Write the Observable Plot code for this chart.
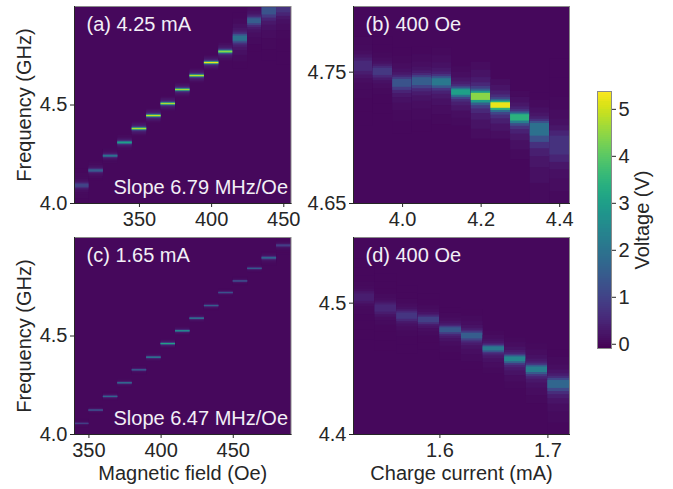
<!DOCTYPE html>
<html>
<head>
<meta charset="utf-8">
<script src="https://cdn.jsdelivr.net/npm/d3@7"></script>
<script src="https://cdn.jsdelivr.net/npm/@observablehq/plot@0.6"></script>
<style>
html,body{margin:0;padding:0;background:#fff}
#fig{position:relative;width:673px;height:489px;overflow:hidden}
#fig svg{position:absolute;overflow:visible;background:none}
</style>
</head>
<body>
<div id="fig"></div>
<script>
// Panel (a) 4.25 mA: column centres (Oe), peak frequency (GHz), peak voltage (V), line half-widths above and below the peak (GHz)
const fieldA = [310,320,330,340,350,360,370,380,390,400,410,420,430,440,450];
const freqA  = [4.0895,4.1655,4.24,4.3074,4.378,4.444,4.505,4.576,4.647,4.713,4.769,4.838,4.927,4.981,4.995];
const voltA  = [1.0,1.5,2.0,3.0,4.7,4.9,4.7,4.6,4.8,5.2,4.4,1.9,1.5,1.3,0.7];
const upperA = [.013,.008,.006,.006,.0055,.0055,.0055,.0055,.0055,.0055,.007,.02,.018,.02,.03];
const lowerA = [.013,.008,.006,.006,.0055,.0055,.0055,.0055,.0055,.0055,.007,.024,.024,.04,.045];
// Panel (b) 400 Oe
const currentB = [3.9,3.95,4.0,4.05,4.1,4.15,4.2,4.25,4.3,4.35,4.4];
const freqB  = [4.7548,4.7505,4.7421,4.7434,4.7426,4.7348,4.7315,4.7249,4.7158,4.7085,4.6953];
const voltB  = [0.55,0.8,1.3,1.5,2.1,3.0,4.4,5.2,3.4,1.9,0.7];
const upperB = [.006,.004,.004,.004,.004,.003,.004,.003,.003,.004,.010];
const lowerB = [.007,.005,.006,.006,.005,.004,.005,.004,.005,.012,.014];
// Panel (c) 1.65 mA
const fieldC = [345,355,365,375,385,395,405,415,425,435,445,455,465,475,485];
const freqC  = [4.054,4.1216,4.191,4.26,4.326,4.39,4.459,4.524,4.588,4.652,4.718,4.777,4.841,4.895,4.958];
const voltC  = [1.0,1.4,1.8,2.0,1.6,2.3,3.2,2.8,2.2,1.6,1.4,1.4,1.6,1.7,0.9];
const upperC = [.0035,.0035,.0035,.0035,.0035,.0035,.0035,.0035,.0035,.0035,.0035,.0035,.0035,.005,.006];
const lowerC = [.0035,.0035,.0035,.0035,.0035,.0035,.0035,.0035,.0035,.0035,.0035,.0035,.0035,.006,.007];
// Panel (d) 400 Oe
const currentD = [1.53,1.55,1.57,1.59,1.61,1.63,1.65,1.67,1.69,1.71];
const freqD  = [4.5043,4.4962,4.4904,4.4873,4.4797,4.4752,4.4655,4.4575,4.4496,4.4387];
const voltD  = [0.35,0.5,0.75,0.95,1.4,1.5,2.1,2.4,2.2,1.7];
const upperD = [.0045,.004,.0035,.003,.0025,.003,.002,.0025,.003,.004];
const lowerD = [.005,.005,.0045,.0035,.0035,.004,.003,.0035,.004,.006];
// Line shape: outer edge of each band in half-widths, and its share of the peak voltage (outermost first)
const shapeEdges  = [6.5,5,3.6,2.6,1.9,1.4,1,.6];
const shapeLevels = [.02,.04,.07,.12,.2,.35,.65,1];
const background = 0.03;
const voltageDomain = [-0.09,5.38];
const voltageTicks = [0,1,2,3,4,5];

const font = "'Liberation Sans', Arial, sans-serif";
const ink = "#262626";
const color = {type:"linear", scheme:"viridis", domain:voltageDomain};

function bands(xs, fs, vs, up, low, dx){
  const out = [];
  xs.forEach((x,i)=>{
    shapeLevels.forEach((lvl,k)=>{
      out.push({x1:x-dx, x2:x+dx,
        y1:fs[i]-shapeEdges[k]*low[i],
        y2:fs[i]+shapeEdges[k]*up[i],
        v:Math.max(background, vs[i]*lvl)});
    });
  });
  return out;
}

function panel(c){
  const marks = [
    Plot.frame({fill:d3.interpolateViridis((background-voltageDomain[0])/(voltageDomain[1]-voltageDomain[0]))}),
    Plot.rect(bands(c.xs,c.fs,c.vs,c.up,c.low,c.dx),{x1:"x1",x2:"x2",y1:"y1",y2:"y2",fill:"v",clip:true}),
    Plot.frame({stroke:"#8a8a8a",strokeWidth:1}),
    Plot.frame({anchor:"left",stroke:ink}),
    Plot.frame({anchor:"bottom",stroke:ink}),
    Plot.axisX({ticks:c.xt,tickSize:4,tickPadding:4,tickFormat:c.xf,label:c.xl||null,labelAnchor:"center",labelArrow:"none",labelOffset:45,fill:ink,stroke:ink}),
    Plot.axisY({ticks:c.yt,tickSize:4,tickPadding:3,tickFormat:c.yf,label:c.yl||null,labelAnchor:"center",labelArrow:"none",labelOffset:58,fill:ink,stroke:ink}),
    Plot.text([c.title],{frameAnchor:"top-left",dx:12,dy:18,fill:"#f2eff6",textAnchor:"start",lineAnchor:"middle"})
  ];
  if (c.slope) marks.push(Plot.text([c.slope],{frameAnchor:"bottom-right",dx:-3,dy:-16,fill:"#f2eff6",textAnchor:"end",lineAnchor:"middle"}));
  const svg = Plot.plot({
    width:c.w+c.left+10, height:c.h+c.top+50,
    marginLeft:c.left, marginRight:10, marginTop:c.top, marginBottom:50,
    style:{fontFamily:font,fontSize:"20px",background:"none",color:ink},
    x:{domain:c.xd}, y:{domain:c.yd},
    color, marks
  });
  svg.style.left = c.px+"px"; svg.style.top = c.py+"px";
  return svg;
}

const fig = document.getElementById("fig");
fig.append(panel({px:0,py:0,left:74,top:6,w:216.5,h:197,xs:fieldA,fs:freqA,vs:voltA,up:upperA,low:lowerA,dx:5,xd:[305,455],yd:[4.0,5.0],
  xt:[350,400,450],xf:d=>d,yt:[4.0,4.5],yf:d3.format(".1f"),yl:"Frequency (GHz)",title:"(a) 4.25 mA",slope:"Slope 6.79 MHz/Oe"}));
fig.append(panel({px:279,py:0,left:74,top:6,w:216,h:197,xs:currentB,fs:freqB,vs:voltB,up:upperB,low:lowerB,dx:.025,xd:[3.875,4.425],yd:[4.65,4.80],
  xt:[4.0,4.2,4.4],xf:d3.format(".1f"),yt:[4.65,4.75],yf:d3.format(".2f"),title:"(b) 400 Oe"}));
fig.append(panel({px:0,py:231,left:74,top:6,w:216.5,h:197,xs:fieldC,fs:freqC,vs:voltC,up:upperC,low:lowerC,dx:5,xd:[340,490],yd:[4.0,5.0],
  xt:[350,400,450],xf:d=>d,yt:[4.0,4.5],yf:d3.format(".1f"),yl:"Frequency (GHz)",xl:"Magnetic field (Oe)",title:"(c) 1.65 mA",slope:"Slope 6.47 MHz/Oe"}));
fig.append(panel({px:279,py:231,left:74,top:6,w:216,h:197,xs:currentD,fs:freqD,vs:voltD,up:upperD,low:lowerD,dx:.01,xd:[1.52,1.72],yd:[4.4,4.55],
  xt:[1.6,1.7],xf:d3.format(".1f"),yt:[4.4,4.5],yf:d3.format(".1f"),xl:"Charge current (mA)",title:"(d) 400 Oe"}));

// Colour bar
const barSteps = d3.range(0,128).map(i=>voltageDomain[0]+(voltageDomain[1]-voltageDomain[0])*i/128);
const barStep = (voltageDomain[1]-voltageDomain[0])/128;
const bar = Plot.plot({
  width:76, height:273, marginLeft:0, marginRight:62, marginTop:8, marginBottom:8,
  style:{fontFamily:font,fontSize:"20px",background:"none",color:ink},
  x:{domain:[0,1],axis:null}, y:{domain:voltageDomain}, color,
  marks:[
    Plot.rect(barSteps,{x1:0,x2:1,y1:d=>d,y2:d=>d+barStep,fill:d=>d,shapeRendering:"crispEdges"}),
    Plot.frame({stroke:"#8a8a8a"}),
    Plot.axisY({anchor:"right",ticks:voltageTicks,tickSize:4,tickPadding:3,tickFormat:d=>d,label:"Voltage (V)",labelAnchor:"center",labelArrow:"none",labelOffset:37,fill:ink,stroke:ink})
  ]
});
bar.style.left="597px"; bar.style.top="83px";
fig.append(bar);
</script>
</body>
</html>
